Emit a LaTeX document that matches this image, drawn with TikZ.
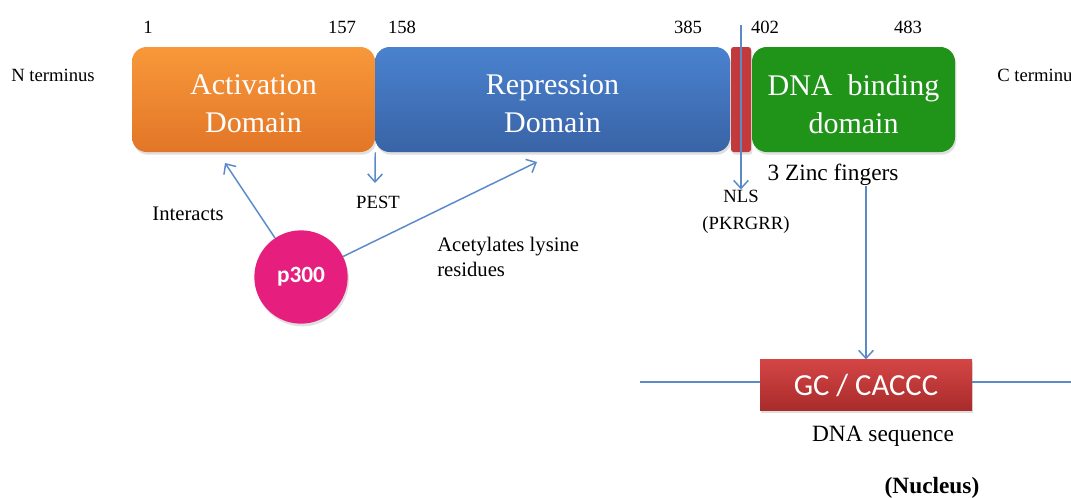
\documentclass[tikz,border=0pt]{standalone}
\usepackage{fontspec}
\setmainfont{Liberation Serif}
\newfontfamily\calibri{Carlito}
\usetikzlibrary{arrows.meta,shadows}

\definecolor{acttop}{HTML}{F8983A}
\definecolor{actbot}{HTML}{E27627}
\definecolor{reptop}{HTML}{4A82CF}
\definecolor{repbot}{HTML}{3963A6}
\definecolor{dbdgreen}{HTML}{1F9419}
\definecolor{nlsred}{HTML}{C23A3C}
\definecolor{gctop}{HTML}{D44545}
\definecolor{gcbot}{HTML}{A92B2B}
\definecolor{pink}{HTML}{E61F7F}
\definecolor{linkblue}{HTML}{5A8AC8}

\begin{document}
\begin{tikzpicture}[x=0.75pt, y=-0.75pt, >={Straight Barb[length=6pt,width=11pt]},
    dombox/.style={rounded corners=11pt, inner sep=0pt, minimum height=78.75pt,
      drop shadow={opacity=0.25, shadow xshift=1pt, shadow yshift=-2pt}},
    domtext/.style={text=white, align=center, inner sep=0pt, yshift=-3.5pt,
      font=\fontsize{22.5}{28.5}\selectfont},
    lbl/.style={inner sep=0pt, font=\fontsize{14}{17}\selectfont},
    mid/.style={inner sep=0pt, align=left, font=\fontsize{15.5}{19}\selectfont},
    big/.style={inner sep=0pt, font=\fontsize{17.5}{21}\selectfont},
    conn/.style={draw=linkblue, line width=1.1pt}]
    \path[use as bounding box, fill=white] (0,0) rectangle (1071,497);

    % We start by placing the blocks
    \node[dombox, top color=acttop, bottom color=actbot, minimum width=182.25pt,
      label={[domtext]center:{Activation\\Domain}}] (act) at (253.5,99.5) {};
    \node[dombox, top color=reptop, bottom color=repbot, minimum width=266.25pt,
      label={[domtext]center:{Repression\\Domain}}] (rep) at (552.5,99.5) {};
    \node[dombox, fill=nlsred, rounded corners=2pt, minimum width=15pt]
      (nls) at (741,99.5) {};
    \node[dombox, fill=dbdgreen, minimum width=152.25pt,
      label={[domtext]center:{DNA~ binding\\domain}}] (dbd) at (853.5,99.5) {};

    % residue numbers
    \node[lbl] (n1)   at (148,27) {1};
    \node[lbl] (n157) at (342,27) {157};
    \node[lbl] (n158) at (402,27) {158};
    \node[lbl] (n385) at (688,27) {385};
    \node[lbl] (n402) at (765,27) {402};
    \node[lbl] (n483) at (908,27) {483};

    \node[lbl] (nterm) at (53,75) {N terminus};
    \node[lbl, anchor=west] (cterm) at (997,75) {C terminus};

    % labels under the blocks
    \node[lbl] (pest) at (378,202) {PEST};
    \node[lbl] (nlslbl) at (741,196) {NLS};
    \node[lbl] (pkrgrr) at (746,225) {(PKRGRR)};
    \node[big] (zinc) at (833,175) {3 Zinc fingers};
    \node[mid] (inter) at (188,214) {Interacts};
    \node[mid, anchor=west] (acet) at (437,257) {Acetylates lysine\\residues};

    \node[circle, fill=pink, text=white, minimum size=70pt, inner sep=0pt,
      font=\calibri\bfseries\fontsize{17.5}{20}\selectfont,
      drop shadow={opacity=0.25, shadow xshift=1pt, shadow yshift=-2pt}]
      (p300) at (301,277) {p300};

    \node[top color=gctop, bottom color=gcbot, text=white, inner sep=0pt,
      minimum width=159pt, minimum height=38pt,
      font=\calibri\fontsize{23}{26}\selectfont,
      drop shadow={opacity=0.25, shadow xshift=1pt, shadow yshift=-2pt}]
      (gc) at (866,385) {GC / CACCC};
    \node[big] (dnaseq) at (883,436) {DNA sequence};
    \node[big, font=\bfseries\fontsize{17.5}{21}\selectfont] (nucl) at (932,488) {(Nucleus)};

    % free ends
    \coordinate (intend) at (225,163);
    \coordinate (acetend) at (537,162);
    \coordinate (pestend) at (375,183);
    \coordinate (nlstop) at (741,25);
    \coordinate (dnal) at (640,382);
    \coordinate (dnar) at (1071,382);

    \draw[conn, ->] (p300) to (intend);
    \draw[conn, ->] (p300) to (acetend);
    \draw[conn, ->] (act.south east) to (pestend);
    \draw[conn, ->] (nlstop) to (nlslbl);
    \draw[conn, ->] (zinc.south -| gc.north) to (gc.north);
    \draw[conn] (dnal) to (dnal -| gc.west);
    \draw[conn] (dnar -| gc.east) to (dnar);
  \end{tikzpicture}
\end{document}
